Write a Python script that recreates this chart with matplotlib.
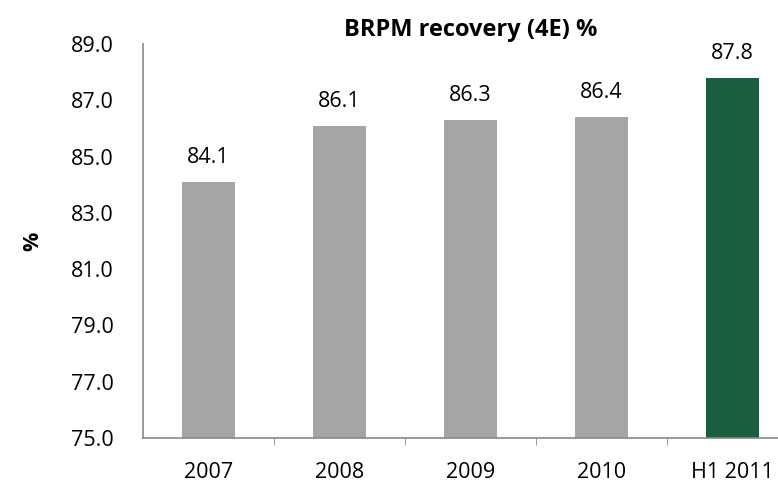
import numpy as np
import matplotlib.pyplot as plt

# data
categories = ["2007", "2008", "2009", "2010", "H1 2011"]
recovery = [84.1, 86.1, 86.3, 86.4, 87.8]
bar_colors = ["#a5a5a5", "#a5a5a5", "#a5a5a5", "#a5a5a5", "#1a5e3f"]
yticks = [75.0, 77.0, 79.0, 81.0, 83.0, 85.0, 87.0, 89.0]

plt.rcParams['font.family'] = ['Open Sans', 'DejaVu Sans']
FS = 15.5

fig = plt.figure(figsize=(7.78, 4.86), dpi=100)
# axes runs past the right edge of the figure, as in the original
ax = fig.add_axes([143 / 778, 48 / 486, 655 / 778, 394 / 486])

x = np.arange(len(categories))
ax.bar(x, recovery, width=0.4, color=bar_colors)
for xi, v in zip(x, recovery):
    ax.annotate(f"{v:.1f}", (xi, v), xytext=(0, 10), textcoords="offset points",
                ha="center", va="bottom", fontsize=FS)

ax.set_xlim(-0.5, len(categories) - 0.5)
ax.set_ylim(75, 89)
ax.set_yticks(yticks)
ax.set_yticklabels([f"{t:.1f}" for t in yticks], fontsize=FS)
ax.tick_params(axis="y", length=0, pad=21)

ax.set_xticks(x)
ax.set_xticklabels(categories, fontsize=FS)
ax.tick_params(axis="x", which="major", length=0, pad=17)
ax.set_xticks(np.arange(0.5, len(categories) - 0.5), minor=True)
ax.tick_params(axis="x", which="minor", length=5, direction="out", color="#888888")

for s in ["top", "right"]:
    ax.spines[s].set_visible(False)
for s in ["left", "bottom"]:
    ax.spines[s].set_color("#888888")
    ax.spines[s].set_linewidth(1.2)

ax.set_ylabel("%", fontsize=FS, fontweight="bold")
ax.yaxis.set_label_coords(-100 / 655, 0.5)
ax.set_title("BRPM recovery (4E) %", fontsize=17, fontweight="bold", pad=6)

fig.savefig("out.png", dpi=100)
